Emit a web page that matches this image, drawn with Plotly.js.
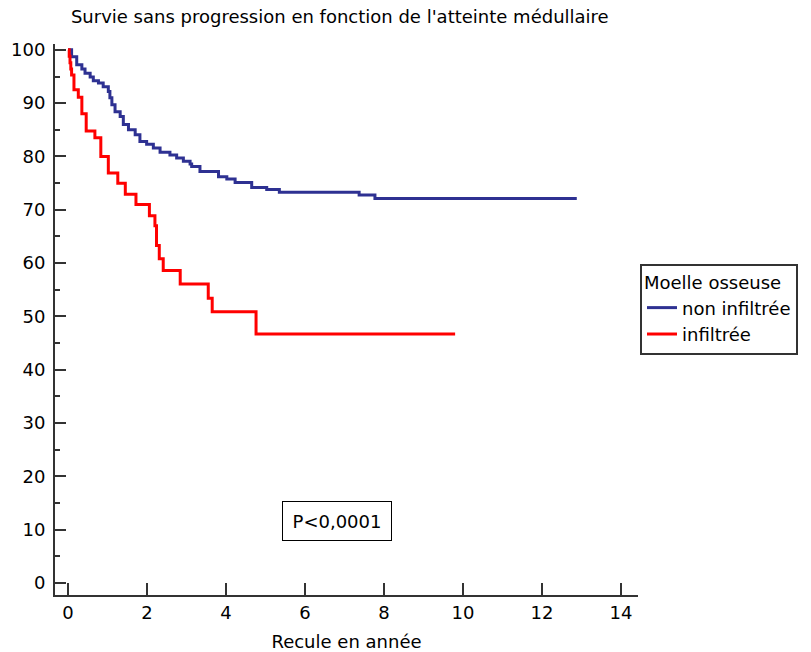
<!DOCTYPE html>
<html>
<head>
<meta charset="utf-8">
<script src="https://cdn.plot.ly/plotly-3.0.1.min.js"></script>
<style>
  html, body { margin: 0; padding: 0; background: #ffffff; }
  #chart { width: 811px; height: 652px; }
</style>
</head>
<body>
<div id="chart"></div>
<script>
// Kaplan-Meier progression-free survival (%) by bone marrow involvement.
// Each pair of arrays lists event times (years) and the survival level reached at that time.

const nonInfiltreeTemps = [0, 0.09, 0.22, 0.35, 0.43, 0.56, 0.64, 0.77, 0.89, 1.02, 1.06, 1.11,
  1.19, 1.32, 1.40, 1.53, 1.70, 1.82, 1.99, 2.16, 2.33, 2.58, 2.75, 2.92, 3.09, 3.13, 3.34,
  3.81, 4.02, 4.23, 4.65, 5.03, 5.35, 7.37, 7.77, 12.88];
const nonInfiltreeSurvie = [100, 98.7, 97.2, 96.4, 95.6, 94.9, 94.2, 93.8, 93.1, 92.2, 91.0, 89.7,
  88.4, 87.5, 86.0, 85.0, 84.1, 82.8, 82.3, 81.6, 80.8, 80.3, 79.7, 79.1, 78.6, 78.1, 77.2,
  76.2, 75.8, 75.1, 74.2, 73.8, 73.3, 72.8, 72.1, 72.1];

const infiltreeTemps = [0, 0.03, 0.05, 0.07, 0.09, 0.15, 0.26, 0.35, 0.46, 0.68, 0.83, 1.02,
  1.26, 1.45, 1.72, 2.06, 2.20, 2.24, 2.31, 2.41, 2.84, 3.55, 3.65, 4.76, 9.80];
const infiltreeSurvie = [100, 98.8, 97.6, 96.4, 95.3, 92.5, 91.1, 88.0, 84.8, 83.5, 80.0, 76.9,
  75.0, 72.9, 71.0, 68.9, 67.0, 63.3, 60.8, 58.6, 56.1, 53.4, 50.9, 46.7, 46.7];

const nomsSeries = ["non infiltrée", "infiltrée"];
const titreLegende = "Moelle osseuse";
const titreGraphique = "Survie sans progression en fonction de l'atteinte médullaire";
const titreAxeX = "Recule en année";
const texteP = "P<0,0001";
const positionP = { temps: 6.81, survie: 11.6 };

const police = "DejaVu Sans, Arial, sans-serif";
const axeCouleur = "#333333";

const traces = [
  {
    x: nonInfiltreeTemps, y: nonInfiltreeSurvie, name: nomsSeries[0],
    type: "scatter", mode: "lines",
    line: { shape: "hv", color: "#2e3192", width: 3 }
  },
  {
    x: infiltreeTemps, y: infiltreeSurvie, name: nomsSeries[1],
    type: "scatter", mode: "lines",
    line: { shape: "hv", color: "#ff0000", width: 3 }
  }
];

const layout = {
  width: 811, height: 652,
  paper_bgcolor: "#ffffff", plot_bgcolor: "#ffffff",
  margin: { l: 55, r: 173, t: 44, b: 57, pad: 0 },
  font: { family: police, size: 18, color: "#000000" },
  title: {
    text: titreGraphique,
    font: { family: police, size: 18, color: "#000000" },
    xref: "container", yref: "container",
    x: 0.419, xanchor: "center", y: 0.974, yanchor: "middle"
  },
  xaxis: {
    range: [-0.33, 14.43],
    tickvals: [0, 2, 4, 6, 8, 10, 12, 14],
    ticks: "inside", ticklen: 12, tickwidth: 2, tickcolor: axeCouleur,
    showline: true, linecolor: axeCouleur, linewidth: 2,
    showgrid: false, zeroline: false,
    tickfont: { family: police, size: 18, color: "#000000" },
    ticklabelstandoff: 0,
    title: { text: titreAxeX, font: { family: police, size: 18, color: "#000000" }, standoff: 14 },
    automargin: false, fixedrange: true
  },
  yaxis: {
    range: [-2.25, 101.1],
    tickvals: [0, 10, 20, 30, 40, 50, 60, 70, 80, 90, 100],
    ticks: "inside", ticklen: 11, tickwidth: 2, tickcolor: axeCouleur,
    minor: { tickvals: [5, 15, 25, 35, 45, 55, 65, 75, 85, 95], ticks: "inside", ticklen: 5, tickwidth: 2, tickcolor: axeCouleur },
    showline: true, linecolor: axeCouleur, linewidth: 2,
    showgrid: false, zeroline: false,
    tickfont: { family: police, size: 18, color: "#000000" },
    ticklabelstandoff: 4,
    automargin: false, fixedrange: true
  },
  showlegend: true,
  legend: {
    title: { text: titreLegende, font: { family: police, size: 18, color: "#000000" } },
    font: { family: police, size: 18, color: "#000000" },
    x: 1.0034, xanchor: "left", y: 0.6007, yanchor: "top",
    bgcolor: "#ffffff", bordercolor: axeCouleur, borderwidth: 2,
    tracegroupgap: 0, itemwidth: 30
  },
  annotations: [
    {
      x: positionP.temps, y: positionP.survie, xref: "x", yref: "y",
      text: texteP, showarrow: false,
      font: { family: police, size: 18, color: "#000000" },
      bordercolor: "#000000", borderwidth: 1, borderpad: 8, bgcolor: "#ffffff",
      width: 92, height: 22
    }
  ]
};

Plotly.newPlot("chart", traces, layout, { staticPlot: true, displayModeBar: false });
</script>
</body>
</html>
